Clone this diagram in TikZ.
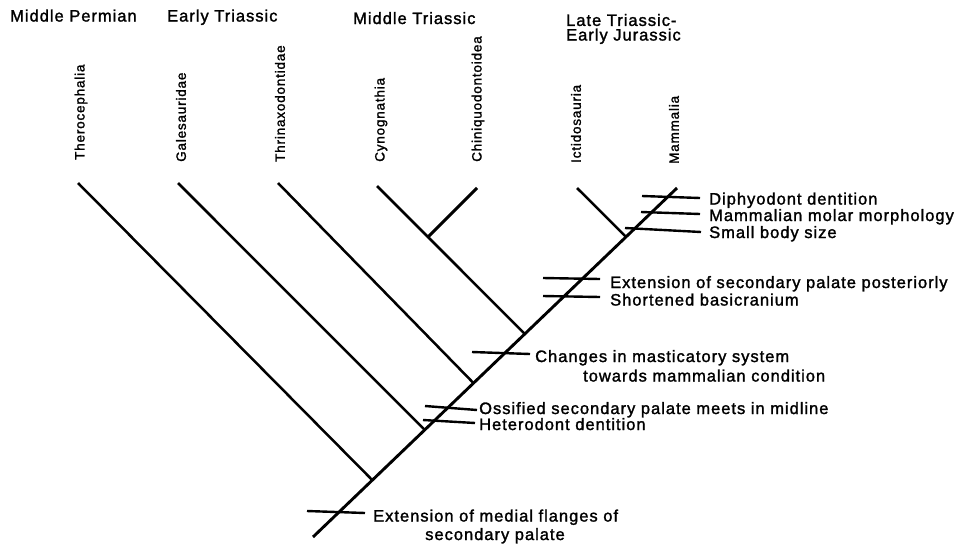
\documentclass[tikz,border=0pt]{standalone}
\usepackage{fontspec}
\setmainfont{Liberation Sans}[LetterSpace=6,FakeBold=1.6]
\usetikzlibrary{calc}
\begin{document}
\begin{tikzpicture}[x=1pt,y=-1pt,
  lbl/.style={font=\fontsize{16.5}{19}\selectfont, inner sep=0pt, anchor=base west},
  lblc/.style={font=\fontsize{16.5}{19}\selectfont, inner sep=0pt, anchor=base},
  taxon/.style={font=\fontsize{13.5}{16}\selectfont, rotate=90, anchor=west, inner sep=0pt},
  trunk/.style={line width=2.9pt},
  branch/.style={line width=2.5pt},
  tickline/.style={line width=2.4pt}]
\useasboundingbox (0,0) rectangle (957,544);

% period labels
\node[lbl] (p1) at (10,21.5) {Middle Permian};
\node[lbl] (p2) at (167,21.5) {Early Triassic};
\node[lbl] (p3) at (353,24) {Middle Triassic};
\node[lbl, align=left, font=\fontsize{16.5}{14.6}\selectfont] (p4) at (566,40.5) {Late Triassic-\\Early Jurassic};

% taxon labels
\node[taxon] (t1) at (81,160) {Therocephalia};
\node[taxon] (t2) at (181,162) {Galesauridae};
\node[taxon] (t3) at (280,162) {Thrinaxodontidae};
\node[taxon] (t4) at (381,162) {Cynognathia};
\node[taxon] (t5) at (478,162) {Chiniquodontoidea};
\node[taxon] (t6) at (576,163) {Ictidosauria};
\node[taxon] (t7) at (674,164) {Mammalia};

% branch tips
\coordinate (b1) at (78,183);
\coordinate (b2) at (178,183);
\coordinate (b3) at (278,183);
\coordinate (b4) at (377,186);
\coordinate (b5) at (477,188);
\coordinate (b6) at (577,188);
\coordinate (b7) at (677,188);

% trunk
\coordinate (base) at (313,537);
\draw[trunk] (base) -- (b7);
\coordinate (j1) at ($(base)!0.163!(b7)$);
\coordinate (j2) at ($(base)!0.307!(b7)$);
\coordinate (j3) at ($(base)!0.441!(b7)$);
\coordinate (j4) at ($(base)!0.582!(b7)$);
\coordinate (j5) at ($(base)!0.860!(b7)$);
\coordinate (jc) at ($(b4)!0.345!(j4)$);

\draw[branch] (b1) -- (j1);
\draw[branch] (b2) -- (j2);
\draw[branch] (b3) -- (j3);
\draw[branch] (b4) -- (j4);
\draw[branch, line width=2.9pt] (b5) -- (jc);
\draw[branch] (b6) -- (j5);

% character ticks and labels
\coordinate (k1a) at (642,196); \coordinate (k1b) at (700,198);
\draw[tickline] (k1a) -- (k1b);
\node[lbl] (c1) at (709,204.5) {Diphyodont dentition};

\coordinate (k2a) at (641,212); \coordinate (k2b) at (700,214);
\draw[tickline] (k2a) -- (k2b);
\node[lbl] (c2) at (709,221) {Mammalian molar morphology};

\coordinate (k3a) at (625,228); \coordinate (k3b) at (701,232);
\draw[tickline] (k3a) -- (k3b);
\node[lbl] (c3) at (709,238) {Small body size};

\coordinate (k4a) at (543,278); \coordinate (k4b) at (600,279);
\draw[tickline] (k4a) -- (k4b);
\node[lbl] (c4) at (610,288) {Extension of secondary palate posteriorly};

\coordinate (k5a) at (543,296); \coordinate (k5b) at (600,297);
\draw[tickline] (k5a) -- (k5b);
\node[lbl] (c5) at (610,305.5) {Shortened basicranium};

\coordinate (k6a) at (472,352); \coordinate (k6b) at (530,354);
\draw[tickline] (k6a) -- (k6b);
\node[lbl] (c6) at (535,362) {Changes in masticatory system};
\node[lbl] (c6b) at (583,381.5) {towards mammalian condition};

\coordinate (k7a) at (425,406); \coordinate (k7b) at (477,410);
\draw[tickline] (k7a) -- (k7b);
\node[lbl] (c7) at (479,414) {Ossified secondary palate meets in midline};

\coordinate (k8a) at (423,420); \coordinate (k8b) at (475,423);
\draw[tickline] (k8a) -- (k8b);
\node[lbl] (c8) at (479,430) {Heterodont dentition};

\coordinate (k9a) at (307,511); \coordinate (k9b) at (365,513);
\draw[tickline] (k9a) -- (k9b);
\node[lbl] (c9) at (373,521.5) {Extension of medial flanges of};
\node[lblc] (c9b) at (495,540) {secondary palate};
\end{tikzpicture}
\end{document}
